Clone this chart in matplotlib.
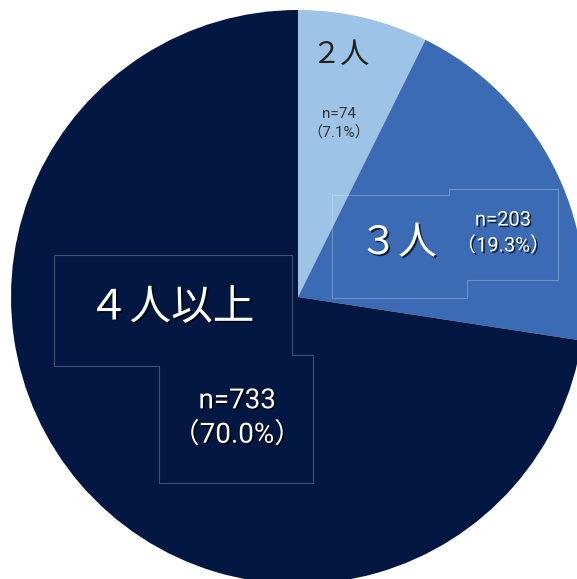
"""Household size breakdown pie chart."""

import matplotlib.pyplot as plt
import matplotlib.patheffects as pe
from matplotlib.patches import Polygon

categories = ["２人", "３人", "４人以上"]
counts = [74, 203, 733]
shares = [7.1, 19.3, 70.0]
colors = ["#9DC3E6", "#3B6BB5", "#021842"]

W, H = 577, 579
JP = ["Noto Sans CJK JP", "DejaVu Sans"]
NUM = ["Roboto", "Noto Sans CJK JP", "DejaVu Sans"]

fig = plt.figure(figsize=(W / 100, H / 100), dpi=100)
ax = fig.add_axes([0, 0, 1, 1])

# pie drawn in pixel space (y runs downward, so flip direction)
ax.pie(
    counts,
    colors=colors,
    center=(298, 297),
    radius=287,
    startangle=-90,
    counterclock=True,
    frame=True,
    wedgeprops=dict(linewidth=0),
)
ax.set_xlim(0, W)
ax.set_ylim(H, 0)
ax.set_aspect("equal")
ax.axis("off")

shadow = [pe.withSimplePatchShadow(offset=(1.2, -1.2), shadow_rgbFace="black", alpha=0.7)]


def count_label(i):
    return f"n={counts[i]}\n（{shares[i]:.1f}%）"


# faint outlines of the label boxes
outline = dict(fill=False, edgecolor=(1, 1, 1, 0.25), linewidth=0.8, closed=True)
ax.add_patch(Polygon([(332, 195), (449, 195), (449, 189), (558, 189), (558, 280),
                      (467, 280), (467, 298), (332, 298)], **outline))
ax.add_patch(Polygon([(54, 255), (292, 255), (292, 355), (313, 355), (313, 483),
                      (159, 483), (159, 366), (54, 366)], **outline))

# 2人
ax.text(340, 55, categories[0], ha="center", va="center", fontsize=21,
        color="#222222", family=JP)
ax.text(339, 123, count_label(0), ha="center", va="center", fontsize=11,
        color="#333333", family=NUM, linespacing=1.35)

# 3人
ax.text(398, 243, categories[1], ha="center", va="center", fontsize=28,
        color="white", family=JP, path_effects=shadow)
ax.text(503, 233, count_label(1), ha="center", va="center", fontsize=14.5,
        color="white", family=NUM, linespacing=1.45, path_effects=shadow)

# 4人以上
ax.text(171, 308, categories[2], ha="center", va="center", fontsize=30,
        color="white", family=JP, path_effects=shadow)
ax.text(237, 418, count_label(2), ha="center", va="center", fontsize=20,
        color="white", family=NUM, linespacing=1.35, path_effects=shadow)

fig.savefig("out.png", dpi=100)
